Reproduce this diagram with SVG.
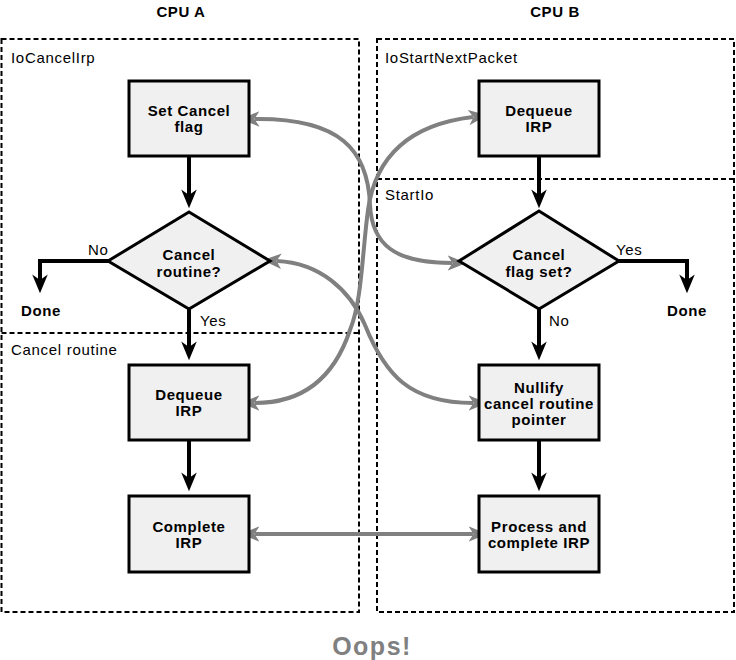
<svg xmlns="http://www.w3.org/2000/svg" width="736" height="660" viewBox="0 0 736 660">
<style>
.frame{fill:none;stroke:#000;stroke-width:2;stroke-dasharray:5 3}
.box{fill:#f0f0f0;stroke:#000;stroke-width:3}
.t{font-family:"Liberation Sans",Arial,sans-serif;font-weight:bold;font-size:15px;letter-spacing:0.6px;fill:#000;text-anchor:middle}
.lbl{font-family:"Liberation Sans",Arial,sans-serif;font-size:15px;letter-spacing:0.7px;fill:#000}
.flow{fill:none;stroke:#000;stroke-width:4;marker-end:url(#ab)}
.sync{fill:none;stroke:#808080;stroke-width:4;marker-start:url(#ag);marker-end:url(#ag)}
</style>
<defs>
<marker id="ab" markerUnits="userSpaceOnUse" markerWidth="20" markerHeight="20" viewBox="0 -8 18 16" refX="5" refY="0" orient="auto">
<path d="M0,-7 L17,0 L0,7 L5,0 Z" fill="#000"/>
</marker>
<marker id="ag" markerUnits="userSpaceOnUse" markerWidth="20" markerHeight="20" viewBox="0 -8 18 16" refX="4" refY="0" orient="auto-start-reverse">
<path d="M0,-7 L17,0 L0,7 L4.5,0 Z" fill="#808080"/>
</marker>
</defs>

<text class="t" x="181" y="17">CPU A</text>
<text class="t" x="555" y="17">CPU B</text>

<g id="frames">
<rect class="frame" x="1.5" y="39" width="357.5" height="573"/>
<line class="frame" x1="1.5" y1="333" x2="359" y2="333"/>
<rect class="frame" x="377" y="39" width="357" height="573"/>
<line class="frame" x1="377" y1="179" x2="734" y2="179"/>
<text class="lbl" x="11" y="63">IoCancelIrp</text>
<text class="lbl" x="11" y="355">Cancel routine</text>
<text class="lbl" x="385" y="63">IoStartNextPacket</text>
<text class="lbl" x="385" y="200">StartIo</text>
</g>

<g id="connectors">
<line class="flow" x1="189" y1="156" x2="189" y2="195"/>
<line class="flow" x1="189" y1="309" x2="189" y2="347"/>
<line class="flow" x1="189" y1="441" x2="189" y2="478"/>
<polyline class="flow" points="108,261 40,261 40,280"/>
<text class="lbl" x="88" y="255">No</text>
<text class="lbl" x="200" y="326">Yes</text>
<line class="flow" x1="539" y1="156" x2="539" y2="195"/>
<line class="flow" x1="539" y1="309" x2="539" y2="347"/>
<line class="flow" x1="539" y1="441" x2="539" y2="478"/>
<polyline class="flow" points="619,261 687,261 687,280"/>
<text class="lbl" x="616" y="255">Yes</text>
<text class="lbl" x="549" y="326">No</text>
<path class="sync" d="M255,119 C340,118 368,150 370,205 C372,245 395,263 452,263"/>
<path class="sync" d="M473,117 C405,125 375,160 368,210 C362,255 362,300 350,330 C335,375 305,403 255,403"/>
<path class="sync" d="M277,261 C320,263 350,290 365,325 C385,375 410,403 473,403"/>
<line class="sync" x1="255" y1="534" x2="473" y2="534"/>
</g>

<g id="set-cancel-flag">
<rect class="box" x="129" y="81" width="120" height="75"/>
<text class="t" x="189" y="116">Set Cancel</text>
<text class="t" x="189" y="132">flag</text>
</g>
<g id="cancel-routine-decision">
<polygon class="box" points="189,212 270,261 189,309 108,261"/>
<text class="t" x="189" y="260">Cancel</text>
<text class="t" x="189" y="277">routine?</text>
</g>
<g id="done-a">
<text class="t" x="41" y="316">Done</text>
</g>
<g id="dequeue-a">
<rect class="box" x="129" y="365" width="120" height="75"/>
<text class="t" x="189" y="400">Dequeue</text>
<text class="t" x="189" y="416">IRP</text>
</g>
<g id="complete-a">
<rect class="box" x="129" y="496" width="120" height="76"/>
<text class="t" x="189" y="532">Complete</text>
<text class="t" x="189" y="548">IRP</text>
</g>

<g id="dequeue-b">
<rect class="box" x="479" y="81" width="120" height="75"/>
<text class="t" x="539" y="116">Dequeue</text>
<text class="t" x="539" y="132">IRP</text>
</g>
<g id="cancel-flag-decision">
<polygon class="box" points="539,211 619,261 539,309 459,261"/>
<text class="t" x="539" y="260">Cancel</text>
<text class="t" x="539" y="277">flag set?</text>
</g>
<g id="done-b">
<text class="t" x="687" y="316">Done</text>
</g>
<g id="nullify-b">
<rect class="box" x="479" y="365" width="120" height="75"/>
<text class="t" x="539" y="393">Nullify</text>
<text class="t" x="539" y="409">cancel routine</text>
<text class="t" x="539" y="425">pointer</text>
</g>
<g id="process-b">
<rect class="box" x="479" y="496" width="120" height="76"/>
<text class="t" x="539" y="532">Process and</text>
<text class="t" x="539" y="548">complete IRP</text>
</g>

<text x="372" y="655" style="font-family:'Liberation Sans',Arial,sans-serif;font-weight:bold;font-size:25px;letter-spacing:1.5px;fill:#808080;text-anchor:middle">Oops!</text>
</svg>
